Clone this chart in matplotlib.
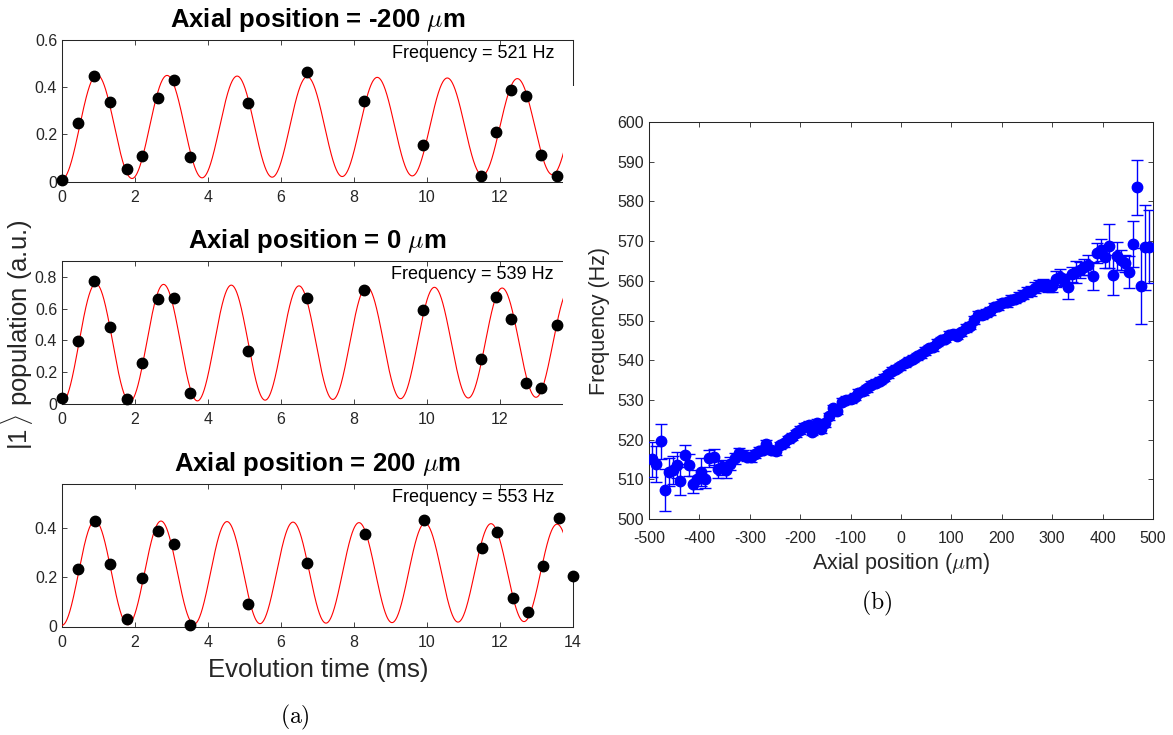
#!/usr/bin/env python3
"""Ramsey fringes at three axial positions and fitted frequency vs position"""

import numpy as np
import matplotlib
matplotlib.use('Agg')
import matplotlib.pyplot as plt
from matplotlib.patches import Rectangle
from matplotlib.ticker import FuncFormatter

plt.rcParams['font.family'] = ['Liberation Sans', 'DejaVu Sans']
plt.rcParams['mathtext.fontset'] = 'cm'
plt.rcParams['axes.unicode_minus'] = False

AX_COLOR = '#262626'

# ---- panel (a): evolution-time scans ----
t_m200 = [0.0, 0.44, 0.89, 1.31, 1.77, 2.18, 2.64, 3.06, 3.51, 5.09,
          6.70, 8.28, 9.88, 11.49, 11.90, 12.31, 12.72, 13.13, 13.57]
p_m200 = [0.005, 0.247, 0.448, 0.336, 0.055, 0.109, 0.355, 0.429, 0.103, 0.333,
          0.463, 0.342, 0.154, 0.024, 0.208, 0.390, 0.363, 0.114, 0.025]

t_0 = [0.0, 0.44, 0.89, 1.31, 1.77, 2.18, 2.64, 3.06, 3.51, 5.09,
       6.70, 8.28, 9.88, 11.49, 11.90, 12.31, 12.72, 13.13, 13.57]
p_0 = [0.04, 0.397, 0.774, 0.485, 0.03, 0.26, 0.658, 0.667, 0.072, 0.331,
       0.665, 0.719, 0.589, 0.285, 0.673, 0.536, 0.133, 0.103, 0.496]

t_200 = [0.44, 0.90, 1.32, 1.78, 2.19, 2.64, 3.07, 3.52, 5.10, 6.72,
         8.30, 9.91, 11.52, 11.93, 12.35, 12.76, 13.17, 13.61, 14.0]
p_200 = [0.235, 0.427, 0.254, 0.03, 0.196, 0.389, 0.334, 0.005, 0.092, 0.257,
         0.376, 0.432, 0.32, 0.382, 0.114, 0.059, 0.245, 0.44, 0.205]

# fit parameters: frequency (Hz), mean, amplitude, decay time (ms)
fit_m200 = (521, 0.232, 0.222, 150.0)
fit_0 = (539, 0.385, 0.375, 144.0)
fit_200 = (553, 0.218, 0.213, 174.0)

positions = ['-200', '0', '200']
ylims = [0.6, 0.9, 0.578]
yticks = [[0, 0.2, 0.4, 0.6], [0, 0.2, 0.4, 0.6, 0.8], [0, 0.2, 0.4]]

# ---- panel (b): frequency vs axial position ----
axial_pos = [-495, -487, -477, -469, -460, -452, -444, -438, -429, -421,
             -413, -405, -396, -388, -380, -372, -363, -355, -347, -339,
             -330, -322, -314, -306, -297, -289, -281, -273, -267, -258,
             -249, -241, -233, -225, -217, -208, -200, -192, -183, -176,
             -167, -158, -151, -142, -134, -126, -118, -109, -100, -92,
             -85, -76, -67, -59, -50, -42, -34, -25, -17, -9,
             -1, 7, 15, 23, 31, 39, 48, 56, 64, 72,
             80, 88, 96, 104, 112, 120, 129, 137, 145, 153,
             161, 169, 177, 185, 193, 201, 210, 218, 226, 234,
             242, 250, 258, 266, 274, 282, 291, 299, 307, 315,
             323, 331, 339, 347, 355, 363, 372, 380, 388, 396,
             404, 412, 420, 428, 436, 444, 453, 461, 469, 477,
             485, 493]
frequency = [515.0, 513.9, 519.6, 507.3, 511.9, 512.3, 513.6, 509.6, 516.2, 513.6,
             508.7, 510.0, 511.9, 510.0, 515.3, 515.7, 512.5, 513.0, 512.3, 513.9,
             515.3, 516.5, 516.1, 515.7, 515.5, 516.4, 517.1, 517.5, 518.9, 517.4,
             517.1, 518.6, 519.1, 520.1, 520.7, 521.6, 522.4, 523.2, 523.7, 522.0,
             524.3, 522.6, 524.1, 525.9, 527.9, 527.3, 529.5, 530.0, 530.2, 530.8,
             531.8, 532.2, 532.9, 533.8, 534.3, 534.8, 535.6, 536.5, 537.3, 537.9,
             538.5, 539.2, 539.9, 540.4, 541.0, 541.5, 542.3, 543.0, 543.2, 544.4,
             545.0, 545.4, 546.4, 546.6, 546.2, 547.0, 548.1, 548.7, 550.2, 551.3,
             551.5, 551.9, 552.4, 553.3, 553.6, 554.3, 554.6, 555.2, 555.4, 556.0,
             556.5, 557.1, 557.4, 558.3, 558.9, 559.0, 558.6, 558.8, 560.4, 561.0,
             560.2, 558.5, 561.6, 562.3, 562.8, 563.4, 564.0, 561.2, 566.9, 567.8,
             566.1, 568.8, 561.5, 566.2, 565.2, 564.4, 562.3, 569.3, 583.6, 558.7,
             568.4, 568.6]
freq_err = [4.5, 4.5, 4.4, 5.2, 3.5, 3.5, 3.2, 3.6, 2.4, 2.8,
            2.2, 2.4, 3.5, 2.2, 2.2, 2.0, 2.2, 1.8, 2.0, 1.6,
            1.4, 1.4, 1.2, 1.2, 1.1, 1.0, 1.0, 1.0, 1.0, 1.0,
            1.0, 0.9, 0.9, 0.9, 0.9, 0.9, 0.9, 0.9, 0.9, 0.9,
            0.9, 0.9, 0.9, 0.9, 0.9, 0.9, 0.9, 0.9, 0.9, 0.9,
            0.9, 0.9, 0.9, 0.9, 0.9, 0.9, 0.9, 0.9, 0.9, 0.9,
            0.9, 0.9, 0.9, 0.9, 0.9, 0.9, 0.9, 0.9, 0.9, 0.9,
            0.9, 0.9, 0.9, 0.9, 0.9, 0.9, 0.9, 0.9, 1.0, 1.0,
            1.0, 1.0, 1.0, 1.0, 1.0, 1.0, 1.1, 1.1, 1.1, 1.2,
            1.2, 1.3, 1.3, 1.4, 1.4, 1.5, 1.5, 1.5, 2.0, 2.0,
            1.6, 3.1, 2.0, 2.8, 2.0, 2.0, 2.5, 3.6, 2.5, 2.8,
            3.0, 5.6, 5.0, 3.5, 2.5, 2.2, 4.0, 5.7, 6.9, 9.6,
            10.6, 9.2]


def style_axes(ax, xpad):
    for sp in ax.spines.values():
        sp.set_color(AX_COLOR)
        sp.set_linewidth(0.75)
    ax.tick_params(direction='in', top=True, right=True, length=3.5,
                   width=0.6, color=AX_COLOR, labelcolor=AX_COLOR, labelsize=11.5)
    ax.tick_params(axis='x', pad=xpad)


W, H = 1173, 735
fig = plt.figure(figsize=(W / 100, H / 100), dpi=100)

# left stack: (bottom px, height px)
left_rects = [(181.5, 141.5), (404.0, 143.0), (626.5, 142.5)]
scans = [(t_m200, p_m200, fit_m200), (t_0, p_0, fit_0), (t_200, p_200, fit_200)]
t_fit = np.linspace(0, 14, 1500)

for i, ((bot, hgt), (t, p, fit)) in enumerate(zip(left_rects, scans)):
    ax = fig.add_axes([62 / W, 1 - bot / H, 511 / W, hgt / H])
    style_axes(ax, 6)
    f, mean, amp, tau = fit
    y_fit = mean - amp * np.exp(-t_fit / tau) * np.cos(2 * np.pi * f * 1e-3 * t_fit)
    ax.plot(t_fit, y_fit, color='red', lw=0.8, zorder=3)
    ax.plot(t, p, 'o', color='black', ms=7.5, zorder=12, clip_on=False)
    ax.set_xlim(0, 14)
    ax.set_ylim(0, ylims[i])
    ax.set_xticks(range(0, 15, 2))
    ax.set_yticks(yticks[i])
    ax.yaxis.set_major_formatter(FuncFormatter(lambda v, _: f'{v:g}'))
    ax.set_title(f'Axial position = {positions[i]} $\\mu$m', fontsize=18.5,
                 fontweight='bold', pad=9)
    ax.text(0.963, 1 - 5 / hgt, f'Frequency = {f} Hz', transform=ax.transAxes,
            ha='right', va='top', fontsize=13, color='black', zorder=13)

    # the original figure is cropped on its right edge
    top = ylims[i]
    if i == 0:
        cover = (13.72, -0.25 * top, 1.0, 0.405 + 0.25 * top)
    elif i == 1:
        cover = (13.72, -0.25 * top, 1.0, 1.4 * top)
    else:
        cover = (13.72, 0.225, 1.0, top)
    ax.add_patch(Rectangle(cover[:2], cover[2], cover[3], facecolor='white',
                           edgecolor='none', clip_on=False, zorder=10))

fig.text(318 / W, 1 - 670 / H, 'Evolution time (ms)', fontsize=18.5,
         ha='center', va='center', color=AX_COLOR)
fig.text(17 / W, 1 - 335 / H, r'|1$\,\rangle$ population (a.u.)', fontsize=18.5,
         rotation=90, ha='center', va='center', color=AX_COLOR)
fig.text(295 / W, 1 - 717 / H, r'$\mathrm{(a)}$', fontsize=17, ha='center', va='center')

# right panel
axr = fig.add_axes([649 / W, 1 - 519 / H, 504 / W, 397 / H])
style_axes(axr, 8.5)
axr.errorbar(axial_pos, frequency, yerr=freq_err, fmt='o', color='#0000ff',
             ms=7.5, elinewidth=1.0, capsize=4, capthick=1.0, zorder=3)
axr.set_xlim(-500, 500)
axr.set_ylim(500, 600)
axr.set_xticks(range(-500, 501, 100))
axr.set_yticks(range(500, 601, 10))

fig.text(901 / W, 1 - 563 / H, r'Axial position ($\mu$m)', fontsize=15.5,
         ha='center', va='center', color=AX_COLOR)
fig.text(600 / W, 1 - 321 / H, 'Frequency (Hz)', fontsize=15.5, rotation=90,
         ha='center', va='center', color=AX_COLOR)
fig.text(877 / W, 1 - 603 / H, r'$\mathrm{(b)}$', fontsize=17, ha='center', va='center')

fig.savefig('out.png', dpi=100, facecolor='white')
